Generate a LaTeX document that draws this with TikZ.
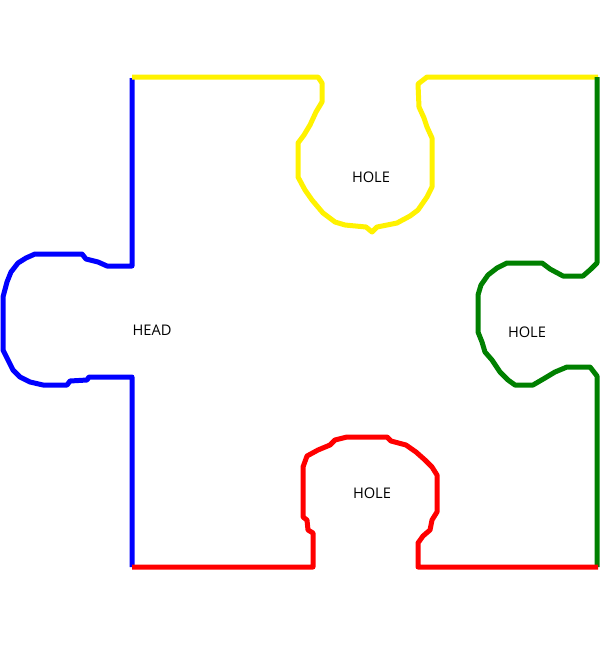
\documentclass[tikz,border=0pt]{standalone}
\usepackage{fontspec}
\setsansfont{Open Sans}
\usetikzlibrary{positioning}

\begin{document}
\begin{tikzpicture}[x=0.03cm, y=-0.03cm, font=\sffamily\fontsize{12.5}{14}\selectfont]
\tikzstyle{side}=[line width=0.15cm, line join=round]
\tikzstyle{lbl}=[inner sep=0pt]
\useasboundingbox (0,0) rectangle (600,645);
% left side: head
\draw[side, blue] (132,78) -- (132,266) -- (107,266) -- (98,262) -- (86,259) -- (82,254)
  -- (35,254) -- (26,258) -- (18,263) -- (11,272) -- (7,282) -- (3,297) -- (3,350)
  -- (8,360) -- (13,370) -- (20,377) -- (30,382) -- (43,385) -- (67,385) -- (70,381)
  -- (87,380) -- (89,377) -- (132,377) -- (132,567);
% top side: hole
\draw[side, yellow] (132,77) -- (318,77) -- (322,83) -- (322,102) -- (316,112)
  -- (310,125) -- (304,135) -- (298,143) -- (298,177) -- (305,190) -- (312,200)
  -- (323,213) -- (335,222) -- (345,225) -- (366,227) -- (372,232) -- (377,227)
  -- (397,223) -- (410,216) -- (418,210) -- (427,197) -- (432,187) -- (432,138)
  -- (427,127) -- (424,118) -- (419,107) -- (418,84) -- (427,77) -- (598,77);
% right side: hole
\draw[side, green!50!black] (597,77) -- (597,263) -- (591,269) -- (583,276)
  -- (563,276) -- (550,269) -- (542,263) -- (507,263) -- (497,268) -- (488,275)
  -- (481,285) -- (478,295) -- (478,332) -- (482,342) -- (485,352) -- (492,360)
  -- (500,372) -- (508,380) -- (515,385) -- (533,385) -- (545,378) -- (555,372)
  -- (567,367) -- (590,367) -- (597,376) -- (597,567);
% bottom side: hole
\draw[side, red] (132,567) -- (313,567) -- (313,533) -- (308,530) -- (307,520)
  -- (303,517) -- (303,467) -- (307,456) -- (318,450) -- (330,445) -- (335,440)
  -- (347,437) -- (387,437) -- (391,441) -- (406,445) -- (416,452) -- (425,460)
  -- (432,467) -- (437,475) -- (437,512) -- (432,520) -- (430,530) -- (423,536)
  -- (418,543) -- (418,567) -- (598,567);
\node[lbl] (topHole) at (371,177) {HOLE};
\node[lbl] (head) at (152,330) {HEAD};
\node[lbl] (rightHole) at (527,332) {HOLE};
\node[lbl] (bottomHole) at (372,493) {HOLE};
\end{tikzpicture}
\end{document}
